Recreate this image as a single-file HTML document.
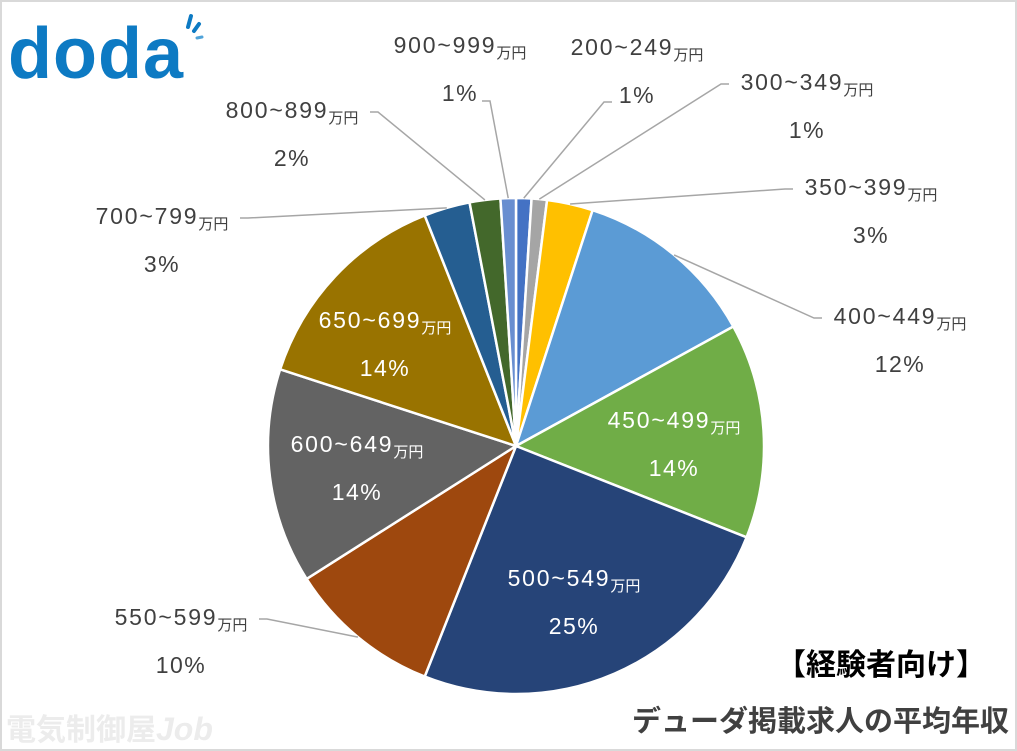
<!DOCTYPE html>
<html><head><meta charset="utf-8">
<style>
html,body{margin:0;padding:0;background:#fff;}
#wrap{position:relative;width:1013px;height:747px;border:2px solid #d9d9d9;overflow:hidden;background:#fff;}
svg{position:absolute;left:-2px;top:-2px;}
</style></head>
<body>
<div id="wrap">
<svg id="chart" width="1017" height="751" viewBox="0 0 1017 751">
  <g>
    <text x="8" y="78" font-family="Liberation Sans, sans-serif" font-size="72" font-weight="bold" fill="#0d7ac3" letter-spacing="1">doda</text>
    <line x1="191" y1="16" x2="188" y2="27" stroke="#0d7ac3" stroke-width="4" stroke-linecap="round"/>
    <line x1="199" y1="24" x2="194" y2="31" stroke="#0d7ac3" stroke-width="4" stroke-linecap="round"/>
    <line x1="202" y1="37" x2="197" y2="38" stroke="#4fa3d9" stroke-width="3" stroke-linecap="round"/>
  </g>
  <g id="slices"></g>
  <g id="leaders"></g>
  <g id="labels"></g>
  <text x="986" y="675" text-anchor="end" font-family="Liberation Sans, 'Noto Sans CJK JP', sans-serif" font-size="30" font-weight="bold" fill="#000">【経験者向け】</text>
  <text x="1009" y="731" text-anchor="end" font-family="Liberation Sans, 'Noto Sans CJK JP', sans-serif" font-size="29" font-weight="bold" fill="#404040">デューダ掲載求人の平均年収</text>
  <text x="6" y="740" font-family="Liberation Sans, 'Noto Sans CJK JP', sans-serif" font-size="30" font-weight="bold" fill="#ececec">電気制御屋<tspan font-size="32" font-style="italic">Job</tspan></text>
</svg>
</div>
<script>
const categories = ["200~249","300~349","350~399","400~449","450~499","500~549","550~599","600~649","650~699","700~799","800~899","900~999"];
const values = [1,1,3,12,14,25,10,14,14,3,2,1];
const percentLabels = ["1%","1%","3%","12%","14%","25%","10%","14%","14%","3%","2%","1%"];
const colors = ["#4472C4","#A5A5A5","#FFC000","#5B9BD5","#70AD47","#264478","#9E480E","#636363","#997300","#255E91","#43682B","#698ED0"];
// label layout: [x, y, inside?, anchorSide] (text center positions)
const labelLayout = [
  [637,55,false,"left"],[807,90,false,"left"],[871,195,false,"left"],[900,324,false,"left"],
  [674,428,true],[574,586,true],[181,625,false,"right"],[357,452,true],[385,328,true],
  [162,224,false,"right"],[292,118,false,"right"],[460,53,false,"right"]
];
const cx=516, cy=446, R=248;
const NS="http://www.w3.org/2000/svg";
const total = values.reduce((a,b)=>a+b,0);
function pt(frac, r){const a=frac*2*Math.PI; return [cx+r*Math.sin(a), cy-r*Math.cos(a)];}
const gS=document.getElementById('slices'), gL=document.getElementById('leaders'), gT=document.getElementById('labels');
let cum=0;
values.forEach((v,i)=>{
  const f0=cum/total, f1=(cum+v)/total; cum+=v;
  const p0=pt(f0,R), p1=pt(f1,R);
  const large=(f1-f0)>0.5?1:0;
  const path=document.createElementNS(NS,'path');
  path.setAttribute('d',`M${cx},${cy} L${p0[0]},${p0[1]} A${R},${R} 0 ${large} 1 ${p1[0]},${p1[1]} Z`);
  path.setAttribute('fill',colors[i]); path.setAttribute('stroke','#fff'); path.setAttribute('stroke-width','2.5');
  
  
  gS.appendChild(path);
  const L=labelLayout[i];
  const inside=L[2];
  const fill=inside?"#fff":"#404040";
  const t=document.createElementNS(NS,'text');
  t.setAttribute('x',L[0]); t.setAttribute('y',L[1]); t.setAttribute('text-anchor','middle');
  t.setAttribute('font-family',"Liberation Sans, 'Noto Sans CJK JP', sans-serif"); t.setAttribute('font-size','23'); t.setAttribute('fill',fill);
  t.setAttribute('letter-spacing','1.8');
  t.innerHTML=categories[i]+'<tspan font-size="15" dy="5" letter-spacing="0">万円</tspan>';
  
  
  gT.appendChild(t);
  const t2=document.createElementNS(NS,'text');
  t2.setAttribute('x',L[0]); t2.setAttribute('y',L[1]+48); t2.setAttribute('text-anchor','middle');
  t2.setAttribute('font-family',"Liberation Sans, sans-serif"); t2.setAttribute('font-size','23'); t2.setAttribute('fill',fill);
  t2.setAttribute('letter-spacing','1.5');
  t2.textContent=percentLabels[i];
  
  
  gT.appendChild(t2);
  if(!inside){
    const mid=pt((f0+f1)/2,R);
    let sx, sy=L[1]-6;
    if(L[3]==="left"){ sx=L[0]-78; } else { sx=L[0]+78; }
    if(i===0){sx=612; sy=102;} if(i===11){sx=482; sy=101;}
    const hx = L[3]==="left"? sx-8 : sx+8;
    const pl=document.createElementNS(NS,'polyline');
    pl.setAttribute('points',`${sx},${sy} ${hx},${sy} ${mid[0]},${mid[1]}`);
    pl.setAttribute('fill','none'); pl.setAttribute('stroke','#a6a6a6'); pl.setAttribute('stroke-width','1.5');
    
    
    gL.appendChild(pl);
  }
});
</script>
</body></html>
